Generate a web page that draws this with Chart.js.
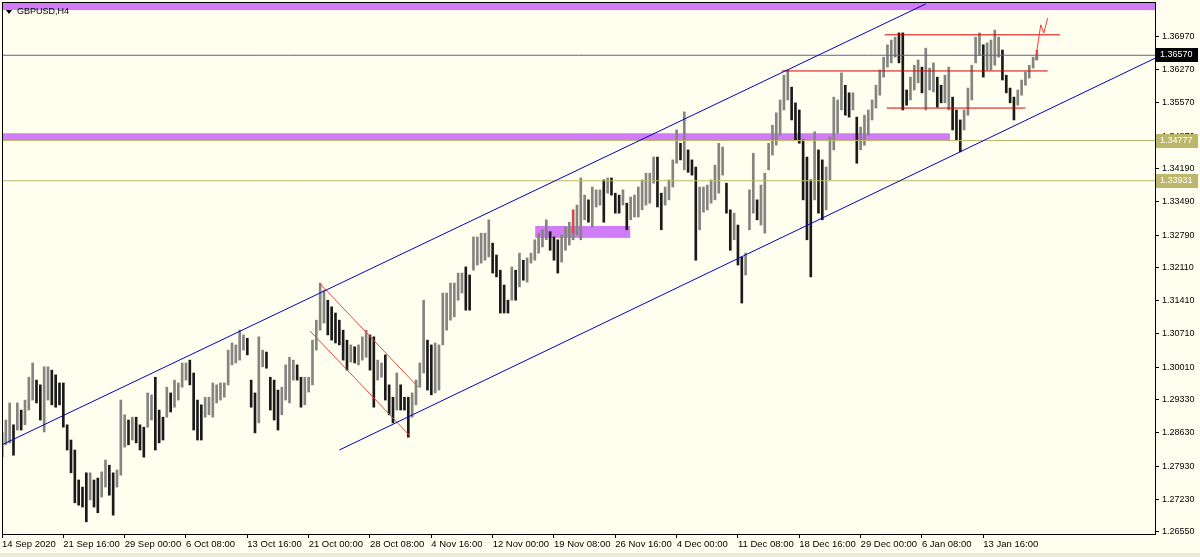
<!DOCTYPE html>
<html>
<head>
<meta charset="utf-8">
<title>GBPUSD,H4</title>
<script src="https://cdn.jsdelivr.net/npm/chart.js@4.4.0/dist/chart.umd.min.js"></script>
<style>
    html, body { margin: 0; padding: 0; background: #fffff0; }
    canvas { display: block; }
</style>
</head>
<body>
<canvas id="priceChart" width="1200" height="557"></canvas>
<script>
// GBPUSD H4 - one entry per 8 hours (two H4 bars), high / low
const highs = [
    1.2863, 1.2890, 1.2926, 1.2880, 1.2926, 1.2911, 1.2932, 1.2980, 1.3010, 1.2974,
    1.2964, 1.3002, 1.3002, 1.2995, 1.2985, 1.2968, 1.2968, 1.2880, 1.2848, 1.2827,
    1.2764, 1.2749, 1.2779, 1.2779, 1.2764, 1.2768, 1.2781, 1.2806, 1.2795, 1.2779,
    1.2785, 1.2932, 1.2901, 1.2890, 1.2896, 1.2896, 1.2880, 1.2875, 1.2947, 1.2943,
    1.2980, 1.2911, 1.2896, 1.2959, 1.2947, 1.2974, 1.2968, 1.3010, 1.3010, 1.3016,
    1.2989, 1.2932, 1.2922, 1.2938, 1.2938, 1.2968, 1.2964, 1.2968, 1.2968, 1.3037,
    1.3052, 1.3048, 1.3079, 1.3069, 1.3062, 1.2974, 1.2947, 1.3065, 1.3037, 1.3033,
    1.2980, 1.2974, 1.2953, 1.2959, 1.3006, 1.3022, 1.3016, 1.3006, 1.2980, 1.2980,
    1.2980, 1.3058, 1.3100, 1.3178, 1.3163, 1.3142, 1.3128, 1.3115, 1.3100, 1.3079,
    1.3058, 1.3048, 1.3044, 1.3048, 1.3065, 1.3079, 1.3069, 1.3065, 1.3016, 1.3010,
    1.3027, 1.2964, 1.2938, 1.2989, 1.2964, 1.2938, 1.2938, 1.2947, 1.2974, 1.3010,
    1.3142, 1.3058, 1.3048, 1.3052, 1.3048, 1.3157, 1.3157, 1.3178, 1.3178, 1.3199,
    1.3199, 1.3212, 1.3195, 1.3275, 1.3275, 1.3283, 1.3283, 1.3311, 1.3262, 1.3237,
    1.3205, 1.3174, 1.3142, 1.3212, 1.3205, 1.3241, 1.3226, 1.3231, 1.3241, 1.3269,
    1.3283, 1.3290, 1.3311, 1.3286, 1.3275, 1.3269, 1.3279, 1.3296, 1.3306, 1.3332,
    1.3342, 1.3399, 1.3363, 1.3353, 1.3380, 1.3374, 1.3374, 1.3395, 1.3399, 1.3399,
    1.3367, 1.3363, 1.3374, 1.3346, 1.3359, 1.3363, 1.3380, 1.3395, 1.3409, 1.3409,
    1.3443, 1.3443, 1.3367, 1.3380, 1.3395, 1.3437, 1.3500, 1.3472, 1.3538, 1.3458,
    1.3437, 1.3422, 1.3380, 1.3380, 1.3384, 1.3395, 1.3426, 1.3472, 1.3464, 1.3388,
    1.3332, 1.3325, 1.3300, 1.3233, 1.3241, 1.3374, 1.3451, 1.3353, 1.3384, 1.3409,
    1.3472, 1.3510, 1.3536, 1.3563, 1.3615, 1.3626, 1.3590, 1.3557, 1.3542, 1.3479,
    1.3443, 1.3395, 1.3496, 1.3458, 1.3437, 1.3422, 1.3485, 1.3569, 1.3563, 1.3620,
    1.3594, 1.3578, 1.3578, 1.3527, 1.3506, 1.3531, 1.3542, 1.3563, 1.3594, 1.3626,
    1.3653, 1.3679, 1.3689, 1.3695, 1.3704, 1.3704, 1.3584, 1.3611, 1.3636, 1.3647,
    1.3632, 1.3672, 1.3630, 1.3641, 1.3611, 1.3594, 1.3615, 1.3632, 1.3569, 1.3542,
    1.3521, 1.3542, 1.3588, 1.3636, 1.3695, 1.3704, 1.3679, 1.3683, 1.3689, 1.3710,
    1.3695, 1.3668, 1.3615, 1.3588, 1.3569, 1.3584, 1.3605, 1.3622, 1.3636, 1.3653,
    1.3668
]
const lows = [
    1.2812, 1.2838, 1.2842, 1.2816, 1.2869, 1.2869, 1.2880, 1.2911, 1.2932, 1.2926,
    1.2890, 1.2865, 1.2932, 1.2922, 1.2917, 1.2922, 1.2875, 1.2827, 1.2779, 1.2716,
    1.2711, 1.2707, 1.2676, 1.2722, 1.2707, 1.2695, 1.2728, 1.2749, 1.2732, 1.2690,
    1.2749, 1.2774, 1.2833, 1.2838, 1.2848, 1.2842, 1.2827, 1.2812, 1.2875, 1.2890,
    1.2827, 1.2842, 1.2848, 1.2896, 1.2907, 1.2917, 1.2932, 1.2959, 1.2974, 1.2964,
    1.2869, 1.2848, 1.2848, 1.2896, 1.2901, 1.2896, 1.2926, 1.2932, 1.2938, 1.2964,
    1.3006, 1.3010, 1.3016, 1.3037, 1.3027, 1.2917, 1.2863, 1.2884, 1.3002, 1.2999,
    1.2911, 1.2890, 1.2869, 1.2901, 1.2932, 1.2926, 1.2974, 1.2974, 1.2917, 1.2922,
    1.2949, 1.2964, 1.3037, 1.3079, 1.3094, 1.3069, 1.3058, 1.3052, 1.3048, 1.3016,
    1.2995, 1.3012, 1.3010, 1.3006, 1.3016, 1.3022, 1.2995, 1.2917, 1.2974, 1.2980,
    1.2932, 1.2901, 1.2884, 1.2911, 1.2911, 1.2911, 1.2854, 1.2896, 1.2922, 1.2959,
    1.2989, 1.2953, 1.2943, 1.2947, 1.2953, 1.3048, 1.3079, 1.3100, 1.3107, 1.3142,
    1.3157, 1.3121, 1.3121, 1.3205, 1.3216, 1.3220, 1.3226, 1.3233, 1.3199, 1.3191,
    1.3115, 1.3115, 1.3115, 1.3142, 1.3142, 1.3170, 1.3184, 1.3180, 1.3220, 1.3226,
    1.3241, 1.3254, 1.3269, 1.3247, 1.3226, 1.3199, 1.3222, 1.3247, 1.3258, 1.3269,
    1.3279, 1.3269, 1.3311, 1.3306, 1.3296, 1.3338, 1.3342, 1.3306, 1.3367, 1.3363,
    1.3325, 1.3325, 1.3342, 1.3290, 1.3311, 1.3317, 1.3317, 1.3332, 1.3342, 1.3346,
    1.3388, 1.3338, 1.3290, 1.3342, 1.3353, 1.3380, 1.3430, 1.3437, 1.3416, 1.3411,
    1.3405, 1.3226, 1.3290, 1.3327, 1.3332, 1.3346, 1.3353, 1.3367, 1.3405, 1.3325,
    1.3247, 1.3269, 1.3216, 1.3136, 1.3195, 1.3290, 1.3325, 1.3311, 1.3300, 1.3283,
    1.3416, 1.3447, 1.3468, 1.3489, 1.3542, 1.3563, 1.3521, 1.3479, 1.3472, 1.3353,
    1.3269, 1.3191, 1.3353, 1.3325, 1.3311, 1.3332, 1.3395, 1.3458, 1.3493, 1.3542,
    1.3531, 1.3527, 1.3542, 1.3430, 1.3458, 1.3468, 1.3489, 1.3521, 1.3546, 1.3573,
    1.3611, 1.3632, 1.3641, 1.3653, 1.3641, 1.3542, 1.3552, 1.3563, 1.3584, 1.3599,
    1.3578, 1.3542, 1.3584, 1.3580, 1.3548, 1.3557, 1.3557, 1.3542, 1.3500, 1.3479,
    1.3454, 1.3500, 1.3531, 1.3563, 1.3641, 1.3657, 1.3611, 1.3626, 1.3626, 1.3636,
    1.3653, 1.3605, 1.3578, 1.3557, 1.3521, 1.3552, 1.3573, 1.3594, 1.3609, 1.3630,
    1.3647
]

// one time label every 16 entries (32 H4 bars)
const timeLabels = [
    '14 Sep 2020', '21 Sep 16:00', '29 Sep 00:00', '6 Oct 08:00', '13 Oct 16:00',
    '21 Oct 00:00', '28 Oct 08:00', '4 Nov 16:00', '12 Nov 00:00', '19 Nov 08:00',
    '26 Nov 16:00', '4 Dec 00:00', '11 Dec 08:00', '18 Dec 16:00', '29 Dec 00:00',
    '6 Jan 08:00', '13 Jan 16:00'
]
const priceTicks = [
    1.36970, 1.36270, 1.35570, 1.34870, 1.34190, 1.33490, 1.32790, 1.32110,
    1.31410, 1.30710, 1.30010, 1.29330, 1.28630, 1.27930, 1.27230, 1.26550
]

// drawn objects, in [bar index, price]
const blueChannelTop = [[0, 1.2838], [241, 1.3765]]
const blueChannelBottom = [[88, 1.2827], [305, 1.3667]]
const redChannelTop = [[82.8, 1.3178], [108.6, 1.2959]]
const redChannelBottom = [[80.4, 1.3077], [106.5, 1.2856]]
const redMark = [[149, 1.3332], [149, 1.3283]]
const forecast = [[269.6, 1.3647], [271, 1.3721], [271.8, 1.3704], [272.8, 1.3735]]
// [from, to, price]
const redLevels = [[230.3, 276, 1.3700], [203.4, 272.8, 1.3624], [230.8, 267, 1.3546]]
// [from, to, low, high]
const zones = [[-2, 310, 1.3752, 1.3780], [-2, 247.3, 1.3477, 1.3493], [139.1, 163.9, 1.3273, 1.3298]]
const lastPrice = 1.36570
const khakiLevels = [1.34777, 1.33931]

const BG = '#fffff0'
const KHAKI = '#bdb76b'
const FONT = "'Liberation Sans', Arial, sans-serif"

function seg(points, color, width) {
    return {
        type: 'line',
        data: points.map(p => ({ x: p[0], y: p[1] })),
        borderColor: color,
        borderWidth: width || 1,
        pointRadius: 0,
        fill: false,
        tension: 0,
        order: 1
    }
}

const barColors = highs.map((h, i) => {
    if (i === 0) return '#1a1a1a'
    return (h + lows[i]) >= (highs[i - 1] + lows[i - 1]) ? '#848480' : '#1a1a1a'
})

const datasets = [
    seg(blueChannelTop, '#0000cc'),
    seg(blueChannelBottom, '#0000cc'),
    seg([[-2, lastPrice], [310, lastPrice]], 'rgb(95,95,150)'),
    seg([[-2, khakiLevels[0]], [310, khakiLevels[0]]], KHAKI),
    seg([[-2, khakiLevels[1]], [310, khakiLevels[1]]], KHAKI),
    seg(redChannelTop, 'rgb(235,70,70)'),
    seg(redChannelBottom, 'rgb(235,70,70)'),
    seg(redMark, 'rgb(240,60,60)', 2),
    seg(forecast, 'rgb(240,60,60)')
]
redLevels.forEach(l => datasets.push(seg([[l[0], l[2]], [l[1], l[2]]], '#dd0000')))
datasets.push({
    type: 'bar',
    data: highs.map((h, i) => ({ x: i, y: [lows[i], h] })),
    backgroundColor: barColors,
    barThickness: 2,
    order: 10
})

const chartDeco = {
    id: 'chartDeco',
    beforeDraw(chart) {
        const ctx = chart.ctx
        ctx.save()
        ctx.fillStyle = BG
        ctx.fillRect(0, 0, chart.width, chart.height)
        ctx.fillStyle = '#ece9d8'
        ctx.fillRect(0, 553, chart.width, 4)
        ctx.restore()
    },
    beforeDatasetsDraw(chart) {
        const ctx = chart.ctx
        const xs = chart.scales.x, ys = chart.scales.y
        const a = chart.chartArea
        ctx.save()
        ctx.beginPath()
        ctx.rect(a.left, a.top, a.right - a.left, a.bottom - a.top)
        ctx.clip()
        ctx.fillStyle = '#d07cf6'
        zones.forEach(z => {
            const x1 = xs.getPixelForValue(z[0]), x2 = xs.getPixelForValue(z[1])
            const y1 = ys.getPixelForValue(z[3]), y2 = ys.getPixelForValue(z[2])
            ctx.fillRect(x1, y1, x2 - x1, y2 - y1)
        })
        ctx.restore()
    },
    afterDraw(chart) {
        const ctx = chart.ctx
        const ys = chart.scales.y
        const a = chart.chartArea
        ctx.save()
        // frame
        ctx.strokeStyle = '#000'
        ctx.lineWidth = 1
        ctx.strokeRect(a.left + 0.5, a.top + 0.5, a.right - a.left, a.bottom - a.top)
        // symbol title
        ctx.fillStyle = '#000'
        ctx.beginPath()
        ctx.moveTo(6, 10); ctx.lineTo(12, 10); ctx.lineTo(9, 14); ctx.closePath()
        ctx.fill()
        ctx.font = '9px ' + FONT
        ctx.textBaseline = 'middle'
        ctx.fillText('GBPUSD,H4', 17, 12)
        // price tags on the axis
        const tag = (price, bg) => {
            const y = Math.round(ys.getPixelForValue(price))
            ctx.fillStyle = bg
            ctx.fillRect(a.right + 1, y - 7, 42, 14)
            ctx.fillStyle = '#fff'
            ctx.font = '9px ' + FONT
            ctx.textAlign = 'left'
            ctx.fillText(price.toFixed(5), a.right + 5, y)
        }
        tag(lastPrice, '#000')
        khakiLevels.forEach(p => tag(p, KHAKI))
        ctx.restore()
    }
}

const priceChart = new Chart(document.getElementById('priceChart'), {
    type: 'bar',
    data: { datasets: datasets },
    options: {
        responsive: false,
        devicePixelRatio: 1,
        animation: false,
        layout: { padding: { top: 2, left: 2, right: 0, bottom: 0 } },
        plugins: {
            legend: { display: false },
            tooltip: { enabled: false },
            title: { display: false }
        },
        events: [],
        scales: {
            x: {
                type: 'linear',
                min: 0,
                max: 300.8,
                offset: false,
                grid: { display: true, offset: false, drawOnChartArea: false, drawTicks: true, tickLength: 4, color: '#000' },
                border: { display: false },
                afterBuildTicks: axis => { axis.ticks = timeLabels.map((t, k) => ({ value: k * 16 })) },
                afterFit: axis => { axis.height = 23; axis.paddingLeft = 0; axis.paddingRight = 0 },
                ticks: {
                    autoSkip: false,
                    maxRotation: 0,
                    align: 'start',
                    padding: 1,
                    color: '#000',
                    font: { family: FONT, size: 9.5 },
                    callback: v => timeLabels[Math.round(v / 16)]
                }
            },
            y: {
                position: 'right',
                min: 1.26504,
                max: 1.3769,
                grid: { display: true, drawOnChartArea: false, drawTicks: true, tickLength: 4, color: '#000' },
                border: { display: false },
                afterBuildTicks: axis => { axis.ticks = priceTicks.map(v => ({ value: v })) },
                afterFit: axis => { axis.width = 45; axis.paddingTop = 0; axis.paddingBottom = 0 },
                ticks: {
                    autoSkip: false,
                    padding: 3,
                    color: '#000',
                    font: { family: FONT, size: 9 },
                    callback: v => v.toFixed(5)
                }
            }
        }
    },
    plugins: [chartDeco]
})
</script>
</body>
</html>
